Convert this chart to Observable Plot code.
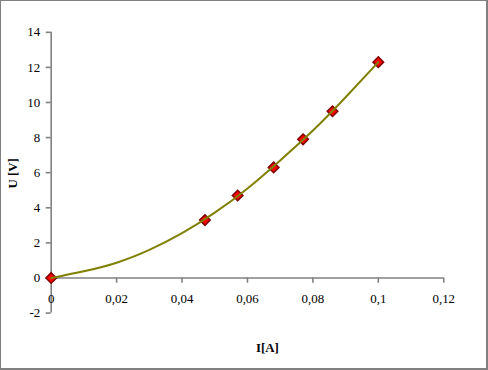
<!DOCTYPE html>
<html>
<head>
<meta charset="utf-8">
<script src="https://cdn.jsdelivr.net/npm/d3@7"></script>
<script src="https://cdn.jsdelivr.net/npm/@observablehq/plot@0.6"></script>
<style>
  html, body { margin: 0; padding: 0; background: #fff; }
  #wrap { position: relative; width: 488px; height: 370px; box-sizing: border-box;
          border-top: 1px solid #808080; border-left: 1px solid #808080;
          border-right: 2px solid #808080; border-bottom: 2px solid #808080; overflow: hidden; }
  #wrap svg { position: absolute; left: -1px; top: -1px; }
  #wrap svg text { font-family: 'Liberation Serif', 'Times New Roman', serif !important; }
</style>
</head>
<body>
<div id="wrap"></div>
<script>
// measured points (markers)
const current = [0, 0.047, 0.057, 0.068, 0.077, 0.086, 0.1];
const voltage = [0, 3.3, 4.7, 6.3, 7.9, 9.5, 12.3];
// trend line
const trendCurrent = [0, 0.01, 0.02, 0.03, 0.04, 0.05, 0.06, 0.07, 0.08, 0.09, 0.1];
const trendVoltage = [0, 0.38, 0.87, 1.6, 2.55, 3.72, 5.1, 6.7, 8.4, 10.3, 12.3];
const xTicks = [0, 0.02, 0.04, 0.06, 0.08, 0.1, 0.12];
const yTicks = [-2, 0, 2, 4, 6, 8, 10, 12, 14];
const xLabel = "I[A]";
const yLabel = "U [V]";

const data = current.map((c, i) => ({I: c, U: voltage[i]}));
const trend = trendCurrent.map((c, i) => ({I: c, U: trendVoltage[i]}));
const fmt = d => String(d).replace(".", ",");
const grey = "#808080";
const font = "'Liberation Serif', 'Times New Roman', serif";

const chart = Plot.plot({
  width: 488,
  height: 370,
  marginLeft: 51,
  marginRight: 42,
  marginTop: 32,
  marginBottom: 55.5,
  style: {fontFamily: font, fontSize: "13px", color: "#000", background: "#fff"},
  x: {domain: [0, 0.12], axis: null},
  y: {domain: [-2, 14], axis: null},
  marks: [
    // y axis line and ticks
    Plot.ruleX([0], {y1: -2, y2: 14, stroke: grey, strokeWidth: 1.6}),
    Plot.axisY(yTicks, {tickSize: 5, tickPadding: 6, stroke: grey, strokeWidth: 1.6,
      fill: "#000", fontSize: 13, fontFamily: font, tickFormat: d => String(d), label: null}),
    // x axis line at y = 0, ticks pointing down
    Plot.ruleY([0], {x1: 0, x2: 0.12, stroke: grey, strokeWidth: 1.6}),
    Plot.ruleX(xTicks, {y1: 0, y2: -0.3, stroke: grey, strokeWidth: 1.6}),
    Plot.text(xTicks, {x: d => d, y: 0, dy: 21, text: fmt, fill: "#000", fontSize: 13, fontFamily: font}),
    // axis titles
    Plot.text([xLabel], {frameAnchor: "bottom", dy: 39, dx: 20, text: d => d, fontWeight: "bold", fontSize: 13, fontFamily: font}),
    Plot.text([yLabel], {frameAnchor: "left", dx: -39, dy: 16, rotate: -90, text: d => d, fontWeight: "bold", fontSize: 13, fontFamily: font}),
    // markers then trend line
    Plot.dot(data, {x: "I", y: "U", symbol: "diamond2", r: 4.8, fill: "#ff0000", stroke: "#800000", strokeWidth: 1.5}),
    Plot.line(trend, {x: "I", y: "U", curve: "natural", stroke: "#808000", strokeWidth: 2})
  ]
});
document.getElementById("wrap").appendChild(chart);
</script>
</body>
</html>
